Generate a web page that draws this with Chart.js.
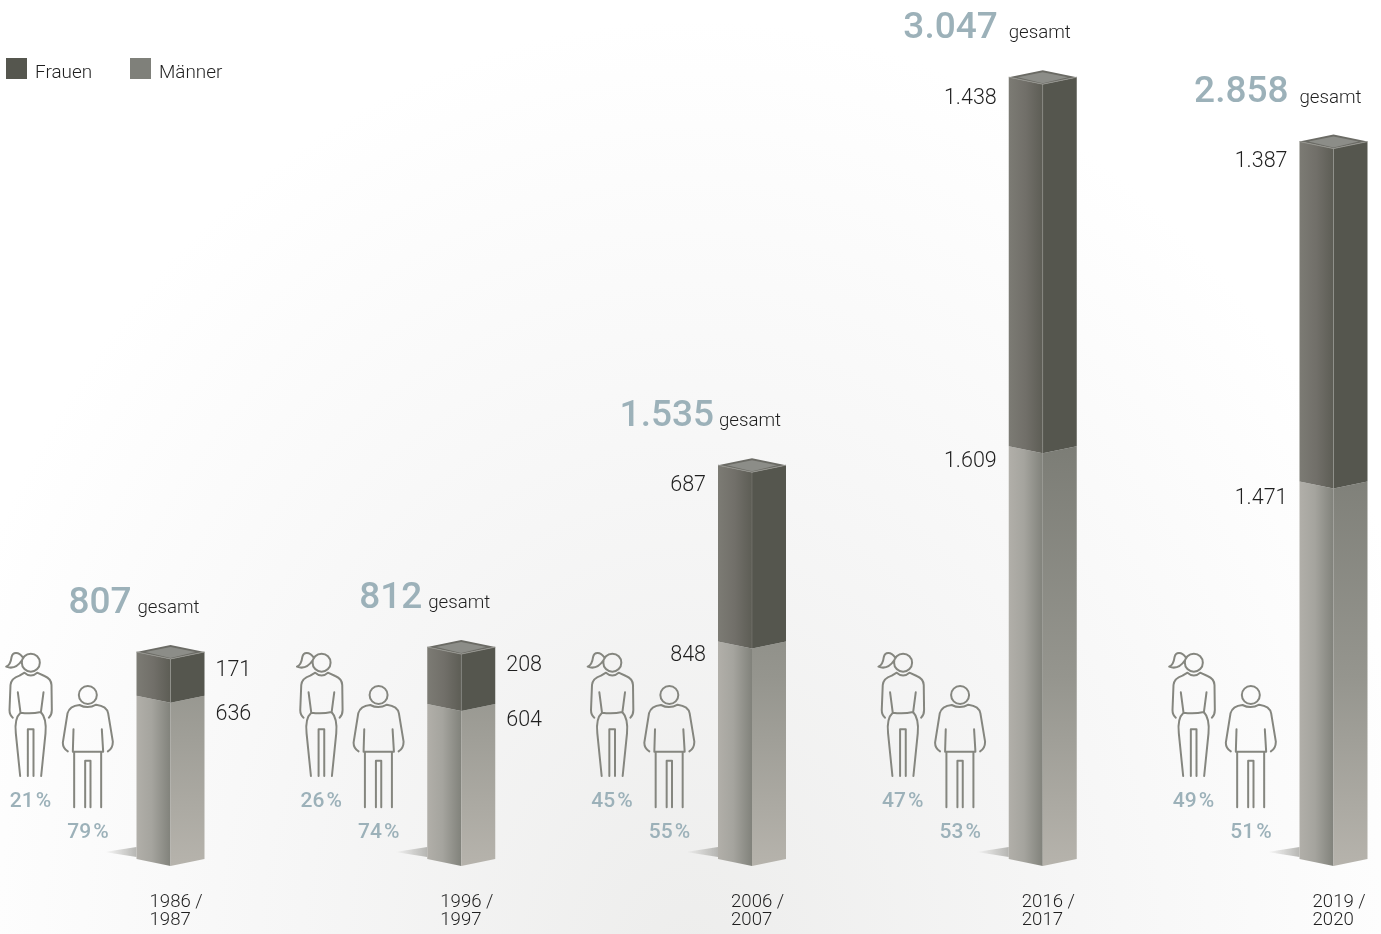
<!DOCTYPE html>
<html lang="de">
<head>
<meta charset="utf-8">
<title>Studierende</title>
<script src="https://cdn.jsdelivr.net/npm/chart.js@4"></script>
<style>
  html, body { margin: 0; padding: 0; background: #fff; }
  body {
    width: 1381px; height: 934px; overflow: hidden;
    background: radial-gradient(ellipse 780px 940px at 690px 960px, #ededec 0%, #f6f6f6 50%, #fbfbfb 78%, #ffffff 100%);
  }
  canvas { display: block; }
</style>
</head>
<body>
<canvas id="myChart" width="1381" height="934"></canvas>
<script>
const years = [["1986 /", "1987"], ["1996 /", "1997"], ["2006 /", "2007"], ["2016 /", "2017"], ["2019 /", "2020"]];
const totals = ["807", "812", "1.535", "3.047", "2.858"];
const frauenLabels = ["171", "208", "687", "1.438", "1.387"];
const maennerLabels = ["636", "604", "848", "1.609", "1.471"];
// bar heights as drawn in the picture: the 1996 and 2019 Frauen bars do not quite match their printed numbers
const frauen = [171, 222, 687, 1438, 1325];
const maenner = [636, 604, 848, 1609, 1471];
const frauenPct = ["21", "26", "45", "47", "49"];
const maennerPct = ["79", "74", "55", "53", "51"];

const BAR_W = 68;
const SKEW = 7;
const BLUE = "#9cb1b9";
const DARK = "#55564e";
const MID = "#7f807a";
const TEXT = "#1f1f1f";

// layout bits that differ per column in the picture
const gapTotal = [6, 6, 5, 11, 11];
const totalDy = [46, 46, 46, 46, 47];
const labelRight = [false, false, true, true, true];
const frauenLabelDy = [12, 12, 13, 14, 13];
const maennerLabelDy = [12, 10, 7, 8, 10];

function poly(ctx, pts, fill) {
  ctx.beginPath();
  pts.forEach((p, i) => (i ? ctx.lineTo(p[0], p[1]) : ctx.moveTo(p[0], p[1])));
  ctx.closePath();
  ctx.fillStyle = fill;
  ctx.fill();
}

function hGrad(ctx, x0, x1, stops) {
  const g = ctx.createLinearGradient(x0, 0, x1, 0);
  stops.forEach((s) => g.addColorStop(s[0], s[1]));
  return g;
}

function drawSegment(ctx, el, isFrauen, bottomY) {
  const x = el.x, top = el.y, base = el.base;
  const l = x - BAR_W / 2, r = x + BAR_W / 2;
  const left = [[l, base - SKEW], [x, base], [x, top], [l, top - SKEW]];
  const right = [[x, base], [r, base - SKEW], [r, top - SKEW], [x, top]];
  if (isFrauen) {
    poly(ctx, left, hGrad(ctx, l, x, [[0, "#7c7b74"], [0.5, "#716f69"], [1, "#5d5d55"]]));
    poly(ctx, right, DARK);
    ctx.strokeStyle = "rgba(255,255,255,0.12)";
    ctx.lineWidth = 1;
    ctx.beginPath();
    ctx.moveTo(x, base);
    ctx.lineTo(x, top);
    ctx.stroke();
  } else {
    poly(ctx, left, hGrad(ctx, l, x, [[0, "#b1afa9"], [0.45, "#a5a49e"], [1, "#81827b"]]));
    const g = ctx.createLinearGradient(0, bottomY, 0, bottomY - 420);
    g.addColorStop(0, "#b6b3ac");
    g.addColorStop(0.45, "#95958e");
    g.addColorStop(1, "#7c7d76");
    poly(ctx, right, g);
  }
}

function drawCap(ctx, x, y) {
  const h = BAR_W / 2;
  poly(ctx, [[x - h, y - SKEW], [x, y - 2 * SKEW], [x + h, y - SKEW], [x, y]], "#6b6b65");
  poly(ctx, [[x - h * 0.74, y - SKEW], [x, y - 2 * SKEW + 2], [x + h * 0.74, y - SKEW], [x, y - 1]], "#8c8d88");
  ctx.strokeStyle = "#94948e";
  ctx.lineWidth = 1;
  ctx.beginPath();
  ctx.moveTo(x - h, y - SKEW);
  ctx.lineTo(x, y);
  ctx.lineTo(x + h, y - SKEW);
  ctx.stroke();
}

function drawShadow(ctx, x, base) {
  const l = x - BAR_W / 2;
  const g = hGrad(ctx, l - 32, l, [[0, "rgba(170,170,166,0)"], [1, "rgba(170,170,166,0.85)"]]);
  poly(ctx, [[l - 32, base - 14], [l, base - 19], [l, base - SKEW - 2]], g);
}

// the two figures, in a box anchored on the column centre
function drawPeople(ctx, c) {
  ctx.save();
  ctx.translate(c - 171, 570);
  ctx.scale(1 / 3, 1 / 3);
  ctx.strokeStyle = "#85867f";
  ctx.lineWidth = 6;
  ctx.lineCap = "round";
  ctx.lineJoin = "round";
  const p = new Path2D();
  // woman
  p.moveTo(121, 278); p.arc(94, 278, 27, 0, Math.PI * 2);
  p.moveTo(70, 262); p.bezierCurveTo(58, 246, 40, 244, 36, 262);
  p.bezierCurveTo(34, 278, 30, 286, 20, 290);
  p.bezierCurveTo(40, 298, 56, 288, 68, 270);
  p.moveTo(40, 443); p.quadraticCurveTo(30, 435, 30, 420); p.lineTo(33, 345);
  p.quadraticCurveTo(35, 325, 60, 317); p.lineTo(75, 308);
  p.quadraticCurveTo(94, 325, 113, 308); p.lineTo(135, 318);
  p.quadraticCurveTo(155, 326, 156, 345); p.lineTo(157, 420); p.quadraticCurveTo(157, 435, 148, 443);
  p.moveTo(55, 367); p.lineTo(63, 428);
  p.moveTo(132, 367); p.lineTo(124, 428);
  p.moveTo(63, 428); p.quadraticCurveTo(94, 433, 124, 426);
  p.moveTo(63, 428); p.quadraticCurveTo(44, 445, 49, 490); p.lineTo(62, 618);
  p.moveTo(124, 426); p.quadraticCurveTo(142, 445, 138, 490); p.lineTo(125, 618);
  p.moveTo(85, 618); p.lineTo(85, 478); p.lineTo(102, 478); p.lineTo(102, 618);
  // man
  p.moveTo(292, 375); p.arc(265, 375, 27, 0, Math.PI * 2);
  p.moveTo(205, 544); p.quadraticCurveTo(190, 535, 190, 518); p.lineTo(204, 430);
  p.quadraticCurveTo(210, 408, 240, 405);
  p.quadraticCurveTo(265, 418, 290, 404);
  p.quadraticCurveTo(322, 408, 326, 430);
  p.lineTo(340, 515); p.quadraticCurveTo(340, 535, 325, 544);
  p.moveTo(222, 478); p.lineTo(220, 545);
  p.moveTo(307, 478); p.lineTo(311, 545);
  p.moveTo(220, 545); p.lineTo(311, 545);
  p.moveTo(224, 545); p.lineTo(224, 712);
  p.moveTo(305, 545); p.lineTo(305, 712);
  p.moveTo(257, 712); p.lineTo(257, 572); p.lineTo(273, 572); p.lineTo(273, 712);
  ctx.stroke(p);
  ctx.restore();
}

const decoPlugin = {
  id: "deco",
  afterDatasetsDraw(chart) {
    const ctx = chart.ctx;
    const maennerBars = chart.getDatasetMeta(0).data;
    const frauenBars = chart.getDatasetMeta(1).data;
    ctx.save();
    ctx.textBaseline = "alphabetic";
    years.forEach((year, i) => {
      const m = maennerBars[i], f = frauenBars[i];
      const c = m.x;
      const l = c - BAR_W / 2;
      drawShadow(ctx, c, m.base);
      drawSegment(ctx, m, false, m.base);
      drawSegment(ctx, f, true, m.base);
      drawCap(ctx, c, f.y);
      drawPeople(ctx, c);

      // total + gesamt
      const gx = c - 33 - (gapTotal[i] > 6 ? 1 : 0);
      ctx.fillStyle = TEXT;
      ctx.textAlign = "left";
      ctx.font = '300 18.7px Roboto, sans-serif';
      ctx.fillText("gesamt", gx, f.y - 46);
      ctx.fillStyle = BLUE;
      ctx.textAlign = "right";
      ctx.font = '500 37px Roboto, sans-serif';
      ctx.fillText(totals[i], gx - gapTotal[i], f.y - totalDy[i]);

      // values next to the bar
      ctx.font = '300 21.5px Roboto, sans-serif';
      ctx.fillStyle = TEXT;
      ctx.textBaseline = "middle";
      ctx.textAlign = labelRight[i] ? "right" : "left";
      const lx = labelRight[i] ? l - 12 : c + BAR_W / 2 + 11;
      ctx.fillText(frauenLabels[i], lx, f.y + frauenLabelDy[i]);
      ctx.fillText(maennerLabels[i], lx, m.y + maennerLabelDy[i]);
      ctx.textBaseline = "alphabetic";

      // percent under the figures
      ctx.fillStyle = BLUE;
      ctx.textAlign = "center";
      ctx.font = '500 21px Roboto, sans-serif';
      ctx.fillText(frauenPct[i] + "\u200A%", c - 140, 807);
      ctx.fillText(maennerPct[i] + "\u200A%", c - 82.5, 838);

      // year label, two left aligned lines
      ctx.fillStyle = TEXT;
      ctx.textAlign = "left";
      ctx.font = '300 18.6px Roboto, sans-serif';
      year.forEach((line, k) => ctx.fillText(line, c - 21, 907 + k * 18));
    });

    // legend
    ctx.font = '300 18.9px Roboto, sans-serif';
    [["Frauen", DARK, 6], ["Männer", MID, 130]].forEach((item) => {
      ctx.fillStyle = item[1];
      ctx.fillRect(item[2], 58, 21, 21);
      ctx.fillStyle = TEXT;
      ctx.fillText(item[0], item[2] + 29, 78);
    });
    ctx.restore();
  },
};

new Chart(document.getElementById("myChart"), {
  type: "bar",
  data: {
    labels: years,
    datasets: [
      // the faces are painted by decoPlugin from these bar elements, the plain rectangles stay invisible
      { label: "Männer", data: maenner, backgroundColor: "transparent", stack: "a", clip: false },
      { label: "Frauen", data: frauen, backgroundColor: "transparent", stack: "a", clip: false },
    ],
  },
  options: {
    responsive: false,
    animation: false,
    devicePixelRatio: 1,
    barThickness: BAR_W,
    layout: { padding: { left: 170.5, right: 47.5, top: 0, bottom: 68 } },
    plugins: { legend: { display: false }, tooltip: { enabled: false } },
    scales: {
      x: { stacked: true, offset: false, display: false, grid: { display: false } },
      y: { stacked: true, display: false, min: 0, max: 3375, grid: { display: false } },
    },
  },
  plugins: [decoPlugin],
});
</script>
</body>
</html>
